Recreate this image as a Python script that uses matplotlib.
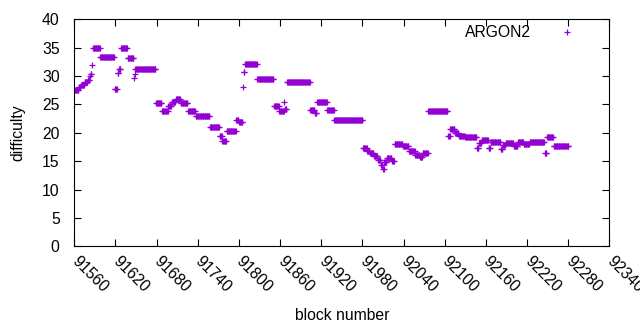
import numpy as np
import matplotlib.pyplot as plt

plt.rcParams['font.family'] = ['Liberation Sans', 'DejaVu Sans']

# runs of equal difficulty: first block of each run and its value
run_start = [91561, 91567, 91570, 91575, 91580, 91583, 91584, 91586, 91587, 91598,
             91619, 91623, 91625, 91628, 91638, 91647, 91648, 91649, 91679, 91688,
             91697, 91702, 91708, 91715, 91726, 91737, 91758, 91772, 91776, 91782,
             91796, 91800, 91806, 91807, 91809, 91827, 91851, 91859, 91866, 91867,
             91870, 91904, 91911, 91914, 91929, 91939, 91981, 91987, 91991, 91997,
             92003, 92007, 92010, 92012, 92016, 92023, 92027, 92039, 92048, 92057,
             92064, 92068, 92076, 92105, 92108, 92115, 92121, 92130, 92147, 92150,
             92154, 92164, 92167, 92182, 92185, 92189, 92201, 92207, 92215, 92224,
             92246, 92249, 92259]
run_value = [27.6, 28.0, 28.5, 28.9, 29.3, 30.0, 30.4, 31.9, 35.0, 33.4,
             27.8, 30.5, 31.3, 35.0, 33.1, 29.7, 30.4, 31.3, 25.3, 23.9,
             24.8, 25.4, 25.9, 25.2, 23.9, 23.0, 21.1, 19.5, 18.5, 20.4,
             22.3, 21.9, 28.0, 30.8, 32.2, 29.4, 24.8, 23.9, 25.5, 24.2,
             28.9, 24.0, 23.5, 25.4, 24.1, 22.3, 17.4, 16.8, 16.4, 15.9,
             15.2, 14.3, 13.6, 14.9, 15.5, 15.0, 18.0, 17.6, 16.8, 16.0,
             15.7, 16.5, 23.9, 19.4, 20.6, 20.0, 19.4, 19.2, 17.3, 18.2,
             18.7, 17.4, 18.3, 17.1, 17.8, 18.2, 17.7, 18.3, 18.0, 18.4,
             16.5, 19.2, 17.6]
last_block = 92280

counts = np.diff(run_start + [last_block + 1])
blocks = np.arange(run_start[0], last_block + 1)
difficulty = np.repeat(run_value, counts)

fs = 11.3
fig = plt.figure(figsize=(6.4, 3.3), dpi=100)
ax = fig.add_axes([0.1161, 0.2537, 0.836, 0.6878])
ax.plot(blocks, difficulty, '+', color='#9400d3', ms=5, mew=0.9, label='ARGON2')

ax.set_xlim(91560, 92340)
ax.set_ylim(0, 40)
ax.set_xticks(np.arange(91560, 92341, 60))
ax.set_yticks(np.arange(0, 41, 5))
ax.tick_params(direction='in', length=5, width=0.8, top=True, right=True, labelsize=fs)
ax.tick_params(axis='y', pad=10.5)
ax.tick_params(axis='x', pad=9)
for lab in ax.get_xticklabels():
    lab.set_rotation(-45)
    lab.set_ha('left')
    lab.set_va('center')
    lab.set_rotation_mode('anchor')
ax.set_xlabel('block number', fontsize=fs, labelpad=9)
ax.set_ylabel('difficulty', fontsize=fs, labelpad=12)
ax.legend(loc='upper right', bbox_to_anchor=(0.977, 1.035), frameon=False, markerfirst=False,
          fontsize=fs, handlelength=2.0, handletextpad=1.3)

fig.savefig('out.png', dpi=100)
